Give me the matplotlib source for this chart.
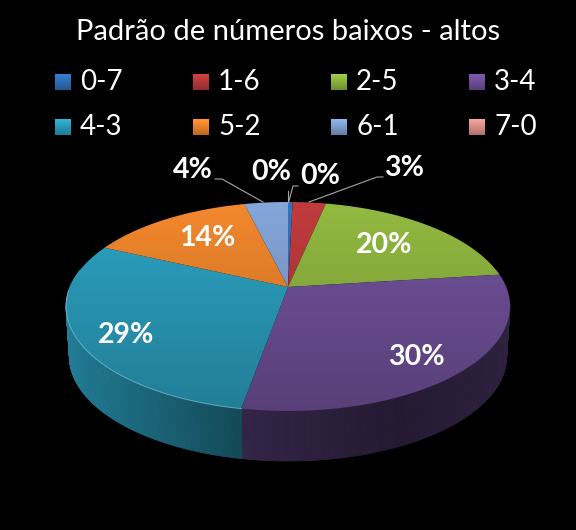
import numpy as np
import matplotlib
matplotlib.use("Agg")
import matplotlib.pyplot as plt
from matplotlib.patches import Polygon

# shares, % (labels are the rounded ones)
categories = ["0-7", "1-6", "2-5", "3-4", "4-3", "5-2", "6-1", "7-0"]
shares = [0.4, 2.9, 19.7, 29.8, 29.1, 14.3, 3.8, 0.0]
colors = ["#2f6fb8", "#b8383b", "#8cb23e", "#6e4f96", "#2a9cbb", "#e9822b", "#7f9fd0", "#d98f8d"]
title = "Padrão de números baixos - altos"
pct_labels = ["0%", "3%", "20%", "30%", "29%", "14%", "4%", "0%"]

# pie geometry in pixels, perspective tilt moves the apex above the ellipse centre
CX, CY = 288, 287
TILT = 0.1866
SX, SB = 218.0, -47.3
DEPTH = 50
FONT = ["Lato", "DejaVu Sans"]


def project(theta):
    # theta clockwise from the back of the pie
    u, v = np.sin(theta), np.cos(theta)
    w = 1 + TILT * v
    return CX + SX * u / w, (CY + SB * v) / w


def wall_shade(x):
    return np.interp(x, [66, 243, 400, 510], [0.80, 0.47, 0.33, 0.42])


fig = plt.figure(figsize=(5.76, 5.30), dpi=100, facecolor="black")
ax = fig.add_axes([0, 0, 1, 1])
ax.set_facecolor("black")

edges = np.cumsum([0] + shares) / 100 * 2 * np.pi
front_start, front_end = np.radians(80), np.radians(280)

# side wall, drawn as thin strips so the shading can run along it
for i, col in enumerate(colors):
    a0, a1 = max(edges[i], front_start), min(edges[i + 1], front_end)
    if a1 <= a0:
        continue
    base = np.array(matplotlib.colors.to_rgb(col))
    ts = np.linspace(a0, a1, max(2, int((a1 - a0) * 80)))
    for t0, t1 in zip(ts[:-1], ts[1:]):
        x0, y0 = project(t0)
        x1, y1 = project(t1)
        lx0 = CX + (x0 - CX) * 0.985
        lx1 = CX + (x1 - CX) * 0.985
        c = base * wall_shade((x0 + x1) / 2)
        ax.add_patch(Polygon([(x0, y0), (x1, y1), (lx1, y1 + DEPTH), (lx0, y0 + DEPTH)],
                             facecolor=c, edgecolor=c, lw=0.6))

# top face, vertical gradient clipped to each wedge
for i, col in enumerate(colors):
    if shares[i] <= 0:
        continue
    ts = np.linspace(edges[i], edges[i + 1], max(3, int(shares[i] * 4)))
    xs, ys = project(ts)
    pts = [(CX, CY)] + list(zip(xs, ys))
    poly = Polygon(pts, closed=True, facecolor="none", edgecolor="none")
    ax.add_patch(poly)
    base = np.array(matplotlib.colors.to_rgb(col))
    ramp = np.linspace(1.05, 0.80, 64)[:, None, None] * base[None, None, :]
    im = ax.imshow(np.clip(ramp, 0, 1), extent=(60, 516, 415, 198), aspect="auto", zorder=2)
    im.set_clip_path(poly)

# pale rim along the front edge of the teal slice
ts = np.linspace(np.radians(190), np.radians(268), 60)
xs, ys = project(ts)
ax.plot(xs, ys, color="#7fc4d8", lw=0.7, alpha=0.7, zorder=3)

# leader lines
leaders = [
    ([215, 222, 263], [179, 179, 202]),
    ([288, 288], [191, 202]),
    ([298, 293, 289], [186, 186, 201]),
    ([383, 377, 309], [177, 177, 202]),
]
for lx, ly in leaders:
    ax.plot(lx, ly, color="#a6a6a6", lw=0.8, zorder=4)

label_pos = [(320, 176), (404, 168), (384, 245), (416, 357),
             (126, 335), (207, 238), (193, 170), (271, 172)]
for txt, (x, y) in zip(pct_labels, label_pos):
    ax.text(x, y, txt, color="white", fontsize=20.5, fontweight="bold", family=FONT,
            ha="center", va="center", zorder=5)

ax.text(288, 32, title, color="white", fontsize=21, family=FONT, ha="center", va="center")

# legend
col_x = [55, 193, 331, 469]
row_y = [82, 127]
for i, (cat, col) in enumerate(zip(categories, colors)):
    x, y = col_x[i % 4], row_y[i // 4]
    base = np.array(matplotlib.colors.to_rgb(col))
    ramp = np.linspace(1.15, 0.8, 16)[:, None, None] * base[None, None, :]
    ax.imshow(np.clip(ramp, 0, 1), extent=(x, x + 16, y + 8, y - 8), aspect="auto", zorder=2)
    ax.text(x + 25, y, cat, color="white", fontsize=20, family=FONT, ha="left", va="center")

ax.set_xlim(0, 576)
ax.set_ylim(530, 0)
ax.axis("off")
fig.savefig("out.png", dpi=100, facecolor="black")
